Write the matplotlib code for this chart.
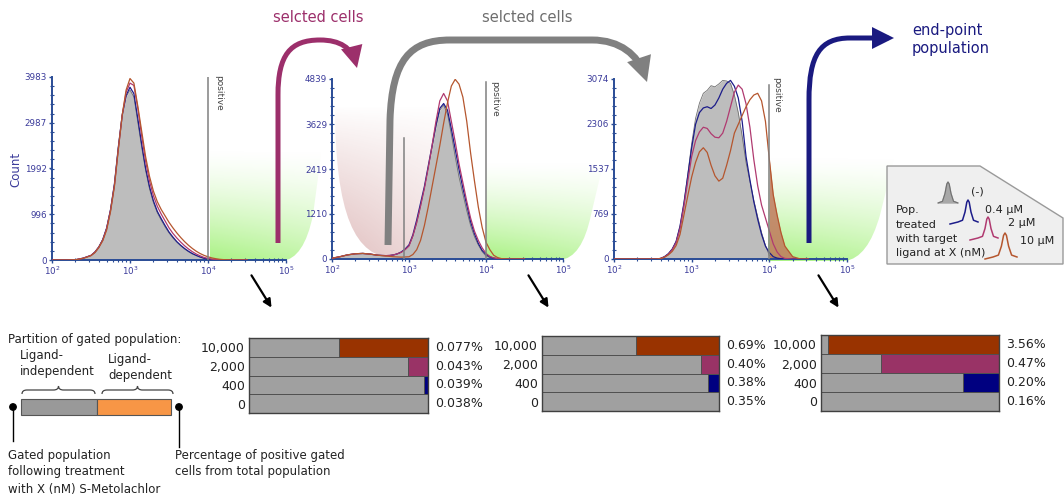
import numpy as np
import matplotlib
matplotlib.use('Agg')
import matplotlib.pyplot as plt
from matplotlib.path import Path
from matplotlib.patches import PathPatch, FancyArrowPatch, Polygon, Rectangle, Circle, ArrowStyle
from matplotlib.ticker import FixedLocator, MultipleLocator, LogLocator, NullFormatter

W, H = 1064, 496

# log10 of fluorescence at which the histogram counts were read
log_grid = [2.0, 2.1, 2.2, 2.3, 2.4, 2.5, 2.55, 2.6, 2.65, 2.7, 2.75, 2.8, 2.85,
            2.9, 2.95, 3.0, 3.05, 3.1, 3.15, 3.2, 3.25, 3.3, 3.35, 3.4, 3.45,
            3.5, 3.55, 3.6, 3.65, 3.7, 3.75, 3.8, 3.85, 3.9, 3.95, 4.0, 4.05,
            4.1, 4.15, 4.2, 4.3, 4.4, 4.5]

# histogram 1 (start population)
h1_ctrl = [0, 0, 0, 5, 40, 100, 180, 290, 450, 700, 1100, 1650, 2450, 3150, 3550,
           3700, 3550, 3000, 2450, 1950, 1550, 1250, 1030, 870, 720, 590, 480, 390,
           310, 240, 180, 130, 95, 60, 35, 18, 8, 4, 2, 0, 0, 0, 0]
h1_04 = [0, 0, 0, 5, 40, 100, 170, 280, 440, 690, 1090, 1650, 2450, 3150, 3580,
         3760, 3620, 3080, 2520, 2000, 1600, 1290, 1060, 900, 750, 610, 500, 400,
         320, 250, 190, 140, 100, 65, 38, 20, 10, 5, 2, 0, 0, 0, 0]
h1_2 = [0, 0, 0, 5, 40, 100, 170, 280, 430, 680, 1080, 1620, 2420, 3150, 3650,
        3850, 3800, 3300, 2700, 2150, 1720, 1400, 1170, 1000, 850, 700, 580, 480,
        390, 310, 240, 180, 130, 90, 55, 35, 18, 9, 4, 0, 0, 0, 0]
h1_10 = [0, 0, 0, 5, 35, 95, 160, 270, 420, 650, 1050, 1600, 2400, 3150, 3700,
         3950, 3850, 3350, 2800, 2250, 1820, 1500, 1270, 1100, 960, 820, 700, 590,
         490, 400, 320, 250, 190, 140, 100, 70, 45, 28, 15, 8, 2, 0, 0]
h1_ticks = [0, 996, 1992, 2987, 3983]

# histogram 2 (after first selection)
h2_ctrl = [20, 60, 110, 140, 150, 130, 115, 100, 95, 90, 95, 110, 140, 180, 250,
           350, 600, 950, 1400, 1900, 2450, 3000, 3550, 4000, 4130, 3900, 3350,
           2750, 2200, 1750, 1300, 900, 600, 380, 200, 80, 40, 15, 5, 0, 0, 0, 0]
h2_04 = [20, 60, 110, 140, 150, 130, 115, 100, 95, 90, 95, 110, 140, 190, 270,
         380, 650, 1050, 1500, 1950, 2500, 3050, 3600, 4050, 4180, 4000, 3500,
         2950, 2400, 1900, 1450, 1000, 680, 420, 230, 120, 55, 25, 8, 0, 0, 0, 0]
h2_2 = [20, 60, 110, 140, 150, 130, 115, 100, 95, 90, 95, 110, 140, 180, 250,
        350, 620, 980, 1420, 1900, 2450, 3050, 3700, 4250, 4450, 4250, 3700,
        3150, 2550, 2050, 1550, 1100, 750, 500, 300, 150, 70, 30, 10, 0, 0, 0, 0]
h2_10 = [20, 60, 110, 140, 150, 130, 115, 100, 90, 80, 70, 60, 55, 50, 55,
         60, 120, 250, 500, 900, 1400, 1950, 2500, 3050, 3650, 4200, 4650,
         4830, 4700, 4350, 3700, 2850, 2100, 1400, 850, 450, 250, 100, 40, 10, 0, 0, 0]
h2_ticks = [0, 1210, 2419, 3629, 4839]

# histogram 3 (end-point population)
h3_ctrl = [0, 0, 0, 0, 0, 0, 0, 10, 40, 90, 170, 300, 560, 950, 1450, 1970, 2400,
           2660, 2830, 2880, 2960, 2940, 2990, 3050, 3040, 3000, 2800, 2500, 2100,
           1650, 1330, 1000, 720, 450, 230, 60, 10, 0, 0, 0, 0, 0, 0]
h3_04 = [0, 0, 0, 0, 0, 0, 0, 10, 40, 90, 170, 300, 560, 950, 1420, 1900, 2300,
         2500, 2580, 2600, 2570, 2630, 2750, 2900, 3000, 3050, 2950, 2750, 2350,
         1750, 1350, 980, 680, 420, 220, 110, 40, 15, 5, 0, 0, 0, 0]
h3_2 = [0, 0, 0, 0, 0, 0, 0, 10, 35, 80, 160, 280, 520, 900, 1330, 1750, 2020,
        2170, 2250, 2230, 2140, 2080, 2070, 2150, 2350, 2600, 2850, 2970, 2900,
        2650, 2250, 1700, 1250, 920, 700, 480, 260, 120, 40, 10, 0, 0, 0]
h3_10 = [0, 0, 0, 0, 0, 0, 0, 8, 30, 70, 130, 230, 420, 750, 1080, 1400, 1650,
         1830, 1900, 1820, 1600, 1420, 1330, 1380, 1600, 1850, 2150, 2300, 2450,
         2600, 2720, 2800, 2830, 2700, 2350, 1700, 1100, 750, 450, 220, 40, 0, 0]
h3_ticks = [0, 769, 1537, 2306, 3074]

# bar charts: doses (nM), share of gated cells that is ligand independent, % positive
doses = ['10,000', '2,000', '400', '0']
b1_gray = [0.50, 0.886, 0.98, 1.0]
b1_pct = [0.077, 0.043, 0.039, 0.038]
b2_gray = [0.53, 0.90, 0.94, 1.0]
b2_pct = [0.69, 0.40, 0.38, 0.35]
b3_gray = [0.04, 0.337, 0.80, 1.0]
b3_pct = [3.56, 0.47, 0.20, 0.16]

legend_labels = ['(-)', '0.4 μM', '2 μM', '10 μM']

line_colors = ['#1c1c8a', '#b03a70', '#b5562e']
bar_colors = ['#993300', '#993366', '#000080', '#a0a0a0']
tick_col = '#3a3a9a'
spine_col = '#2a4c96'

fig = plt.figure(figsize=(W / 100, H / 100), dpi=100)


def px_axes(x0, y0, x1, y1, **kw):
    return fig.add_axes([x0 / W, 1 - y1 / H, (x1 - x0) / W, (y1 - y0) / H], **kw)


# background layer for the faded gate regions
bg = px_axes(0, 0, W, H, zorder=0)
bg.set_xlim(0, W)
bg.set_ylim(H, 0)
bg.axis('off')


def fade(verts, codes, rgb, amax, x0, x1, y0, y1, side=0.0, power=1.4):
    ny, nx = 80, 80
    t = np.linspace(0, 1, ny)[:, None] ** power
    u = np.linspace(0, 1, nx)[None, :]
    img = np.zeros((ny, nx, 4))
    img[..., :3] = rgb
    img[..., 3] = amax * t * (1 - side * u)
    im = bg.imshow(img, extent=(x0, x1, y1, y0), origin='upper',
                   aspect='auto', interpolation='bilinear', zorder=1)
    clip = PathPatch(Path(verts, codes), transform=bg.transData,
                     facecolor='none', edgecolor='none')
    bg.add_patch(clip)
    im.set_clip_path(clip)


C3, C4, L, M = Path.CURVE3, Path.CURVE4, Path.LINETO, Path.MOVETO
green = (0.55, 0.93, 0.35)
fade([(210, 148), (210, 261), (282, 261), (304, 259), (313, 215), (322, 148), (210, 148)],
     [M, L, L, C3, C3, L, Path.CLOSEPOLY], green, 0.75, 210, 322, 148, 261, side=0.3)
fade([(486, 160), (486, 260), (560, 260), (582, 258), (591, 215), (604, 160), (486, 160)],
     [M, L, L, C3, C3, L, Path.CLOSEPOLY], green, 0.75, 486, 604, 160, 260, side=0.3)
fade([(768, 155), (768, 261), (845, 261), (868, 258), (880, 215), (895, 155), (768, 155)],
     [M, L, L, C3, C3, L, Path.CLOSEPOLY], green, 0.75, 768, 895, 155, 261, side=0.3)
fade([(335, 105), (335, 215), (355, 258), (395, 258), (430, 258), (445, 200), (450, 105), (335, 105)],
     [M, C4, C4, C4, C4, C4, C4, Path.CLOSEPOLY], (0.80, 0.58, 0.58), 0.6,
     335, 450, 105, 258, side=0.55, power=0.9)
bg.set_xlim(0, W)
bg.set_ylim(H, 0)


def draw_hist(box, curves, yticks, gates, shade_tail=False):
    ax = px_axes(*box, zorder=5)
    ax.patch.set_alpha(0)
    x = 10 ** np.array(log_grid)
    ax.fill_between(x, curves[0], color='#bdbdbd', lw=0, zorder=2)
    ax.plot(x, curves[0], color='#707070', lw=0.6, zorder=2)
    if shade_tail:
        tail = np.array(log_grid) >= 4.0
        ax.fill_between(x[tail], np.array(curves[3])[tail], color='#c07a5c',
                        alpha=0.85, lw=0, zorder=2)
    for c, col in zip(curves[1:], line_colors):
        ax.plot(x, c, color=col, lw=0.9, zorder=3)
    for gx, gtop in gates:
        ax.plot([gx, gx], [0, gtop], color='#808080', lw=1.1, zorder=4)
    ax.set_xscale('log')
    ax.set_xlim(1e2, 1e5)
    ax.set_ylim(0, yticks[-1])
    ax.xaxis.set_major_locator(FixedLocator([1e2, 1e3, 1e4, 1e5]))
    ax.xaxis.set_minor_locator(LogLocator(base=10, subs=np.arange(2, 10)))
    ax.xaxis.set_minor_formatter(NullFormatter())
    ax.set_xticklabels([r'$10^{2}$', r'$10^{3}$', r'$10^{4}$', r'$10^{5}$'])
    ax.set_yticks(yticks)
    ax.set_yticklabels([str(v) for v in yticks])
    ax.yaxis.set_minor_locator(MultipleLocator(yticks[-1] / 20))
    ax.tick_params(axis='both', which='major', labelsize=6.3, colors=spine_col,
                   labelcolor=tick_col, length=2.5, width=1, direction='out', pad=1)
    ax.tick_params(axis='both', which='minor', colors=spine_col, length=2.5,
                   width=0.8, direction='inout')
    for s in ['top', 'right']:
        ax.spines[s].set_visible(False)
    for s in ['left', 'bottom']:
        ax.spines[s].set_color(spine_col)
        ax.spines[s].set_linewidth(1.4)
    return ax


draw_hist((52, 77, 286, 260), [h1_ctrl, h1_04, h1_2, h1_10], h1_ticks, [(1e4, 3983)])
draw_hist((332, 79, 563, 259), [h2_ctrl, h2_04, h2_2, h2_10], h2_ticks,
          [(1e4, 4760), (860, 3250)])
draw_hist((614, 79, 847, 259), [h3_ctrl, h3_04, h3_2, h3_10], h3_ticks,
          [(1e4, 2970)], shade_tail=True)


def draw_bars(box, gray, pct, fmt):
    ax = px_axes(*box, zorder=5)
    y = np.arange(len(doses))[::-1]
    ax.barh(y, gray, height=1, color=bar_colors[3], edgecolor='#505050', lw=0.7)
    rest = [1 - g for g in gray]
    ax.barh(y[:3], rest[:3], left=gray[:3], height=1, color=bar_colors[:3],
            edgecolor='#505050', lw=0.7)
    ax.set_xlim(0, 1)
    ax.set_ylim(-0.5, len(doses) - 0.5)
    ax.set_xticks([])
    ax.set_yticks(y)
    ax.set_yticklabels(doses, fontsize=9, color='#222222')
    ax.tick_params(axis='y', length=0, pad=3)
    for s in ax.spines.values():
        s.set_color('#404040')
        s.set_linewidth(1)
    for yi, p in zip(y, pct):
        ax.text(1.04, yi, fmt.format(p) + '%', transform=ax.get_yaxis_transform(),
                va='center', ha='left', fontsize=9, color='#222222')


draw_bars((249, 338, 428, 413), b1_gray, b1_pct, '{:.3f}')
draw_bars((542, 336, 719, 411), b2_gray, b2_pct, '{:.2f}')
draw_bars((821, 335, 999, 411), b3_gray, b3_pct, '{:.2f}')

# overlay for arrows and annotations
ov = px_axes(0, 0, W, H, zorder=10)
ov.patch.set_alpha(0)
ov.set_xlim(0, W)
ov.set_ylim(H, 0)
ov.axis('off')

ov.text(16, 169, 'Count', rotation=90, color=tick_col, fontsize=8.5,
        ha='center', va='center')


def bent_arrow(verts, codes, color, lw, hl, hw):
    a = FancyArrowPatch(path=Path(verts, codes),
                        arrowstyle=ArrowStyle('-|>', head_length=hl, head_width=hw),
                        mutation_scale=10, color=color, lw=lw, capstyle='butt',
                        joinstyle='miter')
    ov.add_patch(a)


bent_arrow([(278, 243), (278, 95), (278, 55), (290, 40), (320, 40),
            (340, 40), (352, 48), (357, 68)],
           [M, L, C4, C4, C4, C4, C4, C4], '#9c2f6b', 3.6, 1.0, 0.5)
bent_arrow([(388, 245), (390, 120), (392, 60), (410, 40), (450, 40),
            (592, 40), (620, 40), (638, 55), (647, 82)],
           [M, L, C4, C4, C4, L, C4, C4, C4], '#808080', 5, 1.0, 0.5)
bent_arrow([(809, 243), (809, 100), (809, 55), (820, 38), (850, 38), (894, 38)],
           [M, L, C4, C4, C4, L], '#1a1a80', 3.6, 1.0, 0.5)

ov.text(318, 17, 'selcted cells', color='#9c2f6b', fontsize=10.5, ha='center', va='center')
ov.text(527, 17, 'selcted cells', color='#6e6e6e', fontsize=10.5, ha='center', va='center')
ov.text(912, 30, 'end-point', color='#1a1a80', fontsize=10.5, ha='left', va='center')
ov.text(912, 48, 'population', color='#1a1a80', fontsize=10.5, ha='left', va='center')

for gx, gy in [(214, 75), (490, 81), (772, 77)]:
    ov.text(gx, gy, 'positive', rotation=270, fontsize=6.5, color='#444444',
            ha='left', va='top')

for x0, y0, x1, y1 in [(250, 273, 273, 310), (527, 273, 550, 310), (817, 273, 840, 310)]:
    ov.annotate('', xy=(x1, y1), xytext=(x0, y0),
                arrowprops=dict(arrowstyle='-|>', lw=1.6, color='black', mutation_scale=12))

# legend box
ov.add_patch(Polygon([(887, 166), (980, 166), (1063, 218), (1063, 264), (887, 264)],
                     closed=True, facecolor='#efefef', edgecolor='#9a9a9a', lw=1))
peak_x = [-1.0, -0.55, -0.3, -0.12, 0, 0.12, 0.3, 0.55, 1.0]
peak_y = [0, 0.08, 0.45, 0.9, 1, 0.9, 0.45, 0.08, 0]
for (cx, base, w, h), col, lab, (tx, ty) in zip(
        [(948, 203, 10, 21), (968, 222, 10, 22), (988, 238, 10, 21), (1005, 257, 12, 24)],
        ['#808080'] + line_colors, legend_labels,
        [(971, 191), (985, 210), (1008, 223), (1020, 241)]):
    px = [cx + w * v for v in peak_x]
    py = [base - h * v for v in peak_y]
    if col == '#808080':
        ov.fill(px, py, color='#a8a8a8', zorder=11)
        ov.plot(px, py, color='#707070', lw=0.8, zorder=11)
    else:
        ov.plot([px[0] - 8] + px, [base + 2] + py, color=col, lw=1.1, zorder=11)
    ov.text(tx, ty, lab, fontsize=8, color='#222222', ha='left', va='center')
for i, line in enumerate(['Pop.', 'treated', 'with target', 'ligand at X (nM)']):
    ov.text(896, 210 + 14.5 * i, line, fontsize=8, color='#222222', ha='left', va='center')

# schematic of the partition bar
ov.text(8, 339, 'Partition of gated population:', fontsize=8.5, color='#222222',
        ha='left', va='center')
ov.text(20, 356, 'Ligand-', fontsize=8.5, color='#222222', ha='left', va='center')
ov.text(20, 372, 'independent', fontsize=8.5, color='#222222', ha='left', va='center')
ov.text(108, 359, 'Ligand-', fontsize=8.5, color='#222222', ha='left', va='center')
ov.text(108, 375, 'dependent', fontsize=8.5, color='#222222', ha='left', va='center')


def brace(x0, x1, y):
    xm = (x0 + x1) / 2
    v = [(x0, y + 4), (x0, y), (x0 + 5, y), (xm - 5, y), (xm, y), (xm, y - 4),
         (xm, y), (xm + 5, y), (x1 - 5, y), (x1, y), (x1, y + 4)]
    c = [M, C3, C3, L, C3, C3, C3, C3, L, C3, C3]
    ov.add_patch(PathPatch(Path(v, c), facecolor='none', edgecolor='#444444', lw=0.9))


brace(22, 95, 390)
brace(102, 173, 390)
ov.add_patch(Rectangle((21, 399), 76, 16, facecolor='#999999', edgecolor='#555555', lw=0.8))
ov.add_patch(Rectangle((97, 399), 74, 16, facecolor='#f79646', edgecolor='#555555', lw=0.8))
ov.add_patch(Circle((13, 407), 3.2, color='black'))
ov.add_patch(Circle((179, 407), 3.2, color='black'))
ov.plot([13, 13], [407, 441], color='black', lw=1)
ov.plot([179, 179], [407, 447], color='black', lw=1)
for i, line in enumerate(['Gated population', 'following treatment',
                          'with X (nM) S-Metolachlor']):
    ov.text(8, 455 + 17 * i, line, fontsize=8.5, color='#222222', ha='left', va='center')
for i, line in enumerate(['Percentage of positive gated', 'cells from total population']):
    ov.text(175, 455 + 16 * i, line, fontsize=8.5, color='#222222', ha='left', va='center')

fig.savefig('out.png', dpi=100)
